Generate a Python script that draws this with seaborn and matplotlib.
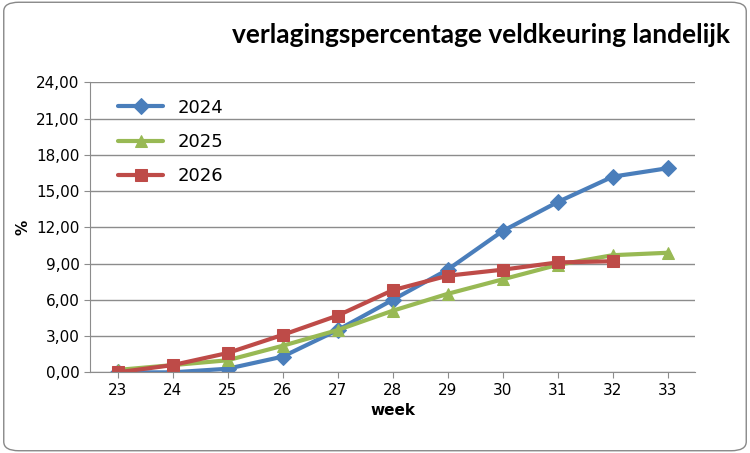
import matplotlib
matplotlib.use("Agg")
import matplotlib.pyplot as plt
import seaborn as sns
import pandas as pd
from matplotlib.ticker import FuncFormatter

weeks = [23, 24, 25, 26, 27, 28, 29, 30, 31, 32, 33]
v2024 = [0.0, 0.0, 0.3, 1.3, 3.5, 6.0, 8.5, 11.7, 14.1, 16.2, 16.9]
v2025 = [0.2, 0.6, 1.0, 2.2, 3.5, 5.1, 6.5, 7.7, 8.9, 9.7, 9.9]
v2026 = [0.0, 0.6, 1.6, 3.1, 4.7, 6.8, 8.0, 8.5, 9.1, 9.2]

rows = []
for year, vals in [("2024", v2024), ("2025", v2025), ("2026", v2026)]:
    for w, v in zip(weeks, vals):
        rows.append({"week": w, "pct": v, "jaar": year})
df = pd.DataFrame(rows)

sns.set_style("white")
plt.rcParams["text.color"] = "black"
plt.rcParams["xtick.color"] = "black"
plt.rcParams["ytick.color"] = "black"
plt.rcParams["axes.labelcolor"] = "black"
fig = plt.figure(figsize=(7.5, 4.53), dpi=100)
ax = fig.add_axes([0.12, 0.178, 0.807, 0.64])

palette = {"2024": "#4a7ebb", "2025": "#98b954", "2026": "#be4b48"}
markers = {"2024": "D", "2025": "^", "2026": "s"}
sns.lineplot(data=df, x="week", y="pct", hue="jaar", style="jaar", palette=palette,
             markers=markers, dashes=False, linewidth=3, markersize=8,
             markeredgecolor=None, ax=ax)

ax.set_xlim(22.5, 33.5)
ax.set_ylim(0, 24)
ax.set_xticks(weeks)
ax.set_yticks(range(0, 25, 3))
ax.yaxis.set_major_formatter(FuncFormatter(lambda v, p: f"{v:.2f}".replace(".", ",")))
ax.grid(axis="y", color="#8c8c8c", linewidth=1)
for s in ["top", "right"]:
    ax.spines[s].set_visible(False)
for s in ["left", "bottom"]:
    ax.spines[s].set_color("#8c8c8c")
ax.tick_params(axis="both", labelsize=11, length=4, color="#8c8c8c", direction="out", left=True, bottom=True)
ax.set_xlabel("week", fontsize=11, fontweight="bold")
ax.set_ylabel("%", fontsize=11, fontweight="bold")

leg = ax.legend(title=None, loc="upper left", frameon=False, fontsize=13,
                handlelength=2.5, labelspacing=0.9, bbox_to_anchor=(0.02, 1.0))

fig.text(0.973, 0.905, "verlagingspercentage veldkeuring landelijk", ha="right",
         fontsize=19, fontweight="bold", family="Lato", color="black")
fig.patches.append(matplotlib.patches.FancyBboxPatch((0.005, 0.005), 0.99, 0.99,
                   boxstyle="round,pad=0,rounding_size=0.02", transform=fig.transFigure,
                   fill=False, edgecolor="#888888", linewidth=1))

fig.savefig("out.png", dpi=100)
